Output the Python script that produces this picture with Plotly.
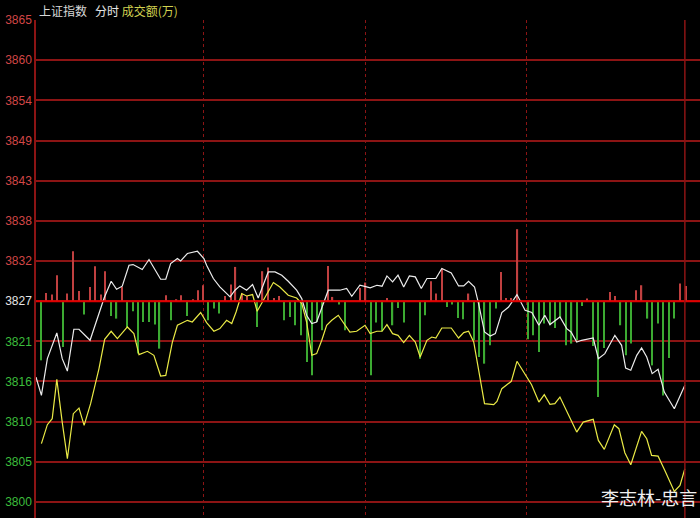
import plotly.graph_objects as go

# previous close and price grid
prev_close = 3827.2
grid_step = 5.43
tick_labels = ["3800", "3805", "3810", "3816", "3821", "3827", "3832",
               "3838", "3843", "3849", "3854", "3860", "3865"]

# index line (white), minutes from open
idx_t = [0.0, 2.0, 4.2, 7.7, 9.7, 11.6, 14.0, 15.9, 20.0, 25.2, 27.8, 29.8, 31.9,
         34.4, 35.9, 39.3, 41.8, 46.1, 48.0, 49.8, 52.3, 53.5, 56.0, 59.7, 62.1,
         63.1, 65.6, 68.0, 71.8, 73.6, 75.4, 77.9, 80.1, 82.2, 85.9, 88.4, 90.9,
         93.3, 96.4, 98.3, 100.1, 102.0, 103.8, 106.2, 108.1, 112.4, 114.9, 116.8,
         119.8, 122.3, 123.6, 126.1, 128.0, 129.8, 131.9, 133.9, 136.0, 138.1,
         140.3, 142.5, 144.6, 147.9, 150.1, 153.6, 156.3, 158.2, 160.0, 162.2,
         163.7, 165.9, 168.0, 169.9, 172.3, 174.8, 177.9, 180.9, 183.4, 186.0,
         188.2, 190.1, 191.9, 193.8, 196.3, 197.9, 200.0, 201.8, 206.1, 208.0,
         210.4, 214.1, 216.6, 218.1, 220.0, 222.2, 224.0, 225.9, 227.9, 230.1,
         232.4, 236.1, 240.0]
idx_v = [3816.94, 3814.46, 3819.43, 3822.90, 3819.43, 3817.75, 3823.40, 3823.40,
         3821.91, 3827.63, 3829.89, 3828.81, 3829.22, 3832.06, 3832.15, 3831.48,
         3832.83, 3830.16, 3830.16, 3832.29, 3832.97, 3832.64, 3833.64, 3833.95,
         3832.97, 3832.06, 3830.26, 3829.12, 3827.77, 3828.68, 3829.26, 3828.68,
         3829.45, 3827.63, 3831.15, 3831.15, 3830.71, 3829.89, 3828.68, 3827.55,
         3825.29, 3824.17, 3824.38, 3826.88, 3828.68, 3828.68, 3828.91, 3827.86,
         3829.35, 3829.12, 3828.99, 3829.35, 3829.22, 3830.61, 3829.80, 3830.71,
         3829.12, 3830.61, 3830.48, 3828.91, 3830.26, 3830.26, 3831.61, 3831.02,
         3829.26, 3829.26, 3829.89, 3829.12, 3826.88, 3823.03, 3822.49, 3822.81,
         3825.66, 3826.41, 3828.09, 3825.97, 3825.66, 3823.94, 3825.29, 3824.03,
         3824.48, 3825.06, 3823.49, 3823.03, 3821.68, 3821.91, 3822.22, 3819.43,
         3820.11, 3822.58, 3821.23, 3818.16, 3817.85, 3819.88, 3820.87, 3819.65,
         3817.40, 3817.98, 3814.91, 3812.66, 3815.82]

# lead line (yellow)
lead_t = [2.0, 4.2, 6.0, 7.7, 9.7, 11.6, 13.8, 15.9, 17.8, 20.2, 23.3, 25.4, 27.8,
          30.1, 33.8, 36.2, 38.1, 41.2, 43.6, 46.1, 48.0, 50.4, 52.3, 56.0, 57.8,
          60.9, 63.1, 65.8, 68.0, 70.5, 72.4, 74.0, 76.1, 77.9, 80.1, 81.8, 84.1,
          87.8, 90.2, 93.3, 96.4, 98.3, 100.1, 102.0, 103.8, 105.7, 107.5, 109.4,
          111.8, 113.9, 116.1, 118.6, 121.7, 123.6, 126.1, 128.0, 129.8, 131.9,
          133.9, 136.0, 138.1, 140.3, 142.1, 144.6, 146.4, 147.9, 150.1, 153.6,
          156.3, 158.2, 160.0, 161.9, 164.3, 165.9, 169.3, 170.5, 172.3, 175.8,
          177.9, 180.4, 183.3, 186.0, 188.0, 190.1, 191.9, 193.8, 196.9, 200.0,
          202.4, 206.1, 208.0, 210.2, 213.9, 215.6, 217.8, 220.0, 224.0, 225.9,
          227.7, 230.1, 232.6, 236.1, 238.2, 240.0]
lead_v = [3807.93, 3810.50, 3811.31, 3816.63, 3810.85, 3805.90, 3811.99, 3812.74,
          3810.40, 3813.34, 3818.08, 3822.04, 3823.13, 3822.14, 3823.71, 3822.81,
          3819.97, 3820.42, 3819.88, 3817.08, 3817.17, 3821.60, 3823.94, 3824.61,
          3824.38, 3825.66, 3824.30, 3823.13, 3823.49, 3824.61, 3824.17, 3825.74,
          3828.23, 3827.90, 3828.09, 3825.83, 3827.32, 3829.72, 3829.12, 3828.00,
          3827.63, 3826.88, 3824.38, 3819.88, 3820.11, 3821.91, 3823.94, 3824.61,
          3825.29, 3824.17, 3823.03, 3823.13, 3823.94, 3822.81, 3823.13, 3823.13,
          3824.03, 3822.81, 3822.58, 3821.60, 3822.58, 3821.68, 3819.65, 3821.91,
          3822.35, 3822.22, 3823.57, 3823.57, 3822.22, 3822.95, 3823.13, 3821.68,
          3816.36, 3813.34, 3813.20, 3813.65, 3815.37, 3816.36, 3819.07, 3817.62,
          3815.91, 3813.56, 3814.56, 3813.25, 3813.34, 3814.23, 3811.76, 3809.50,
          3810.85, 3811.22, 3808.37, 3807.16, 3810.50, 3809.96, 3806.71, 3805.08,
          3809.59, 3808.60, 3806.34, 3806.25, 3804.31, 3801.47, 3802.28, 3804.54]

# red / green strength bars, offset from previous close
up_t = [3.8, 5.8, 7.7, 11.6, 13.8, 15.9, 19.9, 21.7, 23.9, 25.6, 31.7, 48.2, 52.0,
        53.7, 58.2, 59.8, 61.8, 69.9, 72.0, 73.8, 76.1, 77.9, 83.8, 85.9, 88.0,
        89.9, 107.9, 109.7, 119.8, 121.9, 129.8, 146.1, 147.9, 150.1, 160.0,
        172.0, 173.9, 175.8, 178.1, 203.9, 212.3, 214.1, 221.9, 224.0, 238.2, 240.3]
up_v = [1.11, 0.89, 3.51, 1.03, 6.75, 1.38, 1.92, 4.72, 0.89, 4.05, 1.92, 0.80, 0.26,
        0.80, 0.26, 1.48, 2.15, 0.70, 2.25, 4.63, 1.03, 0.70, 4.05, 4.55, 0.43,
        0.70, 4.76, 0.57, 1.79, 2.52, 0.43, 2.69, 1.03, 4.41, 1.03,
        3.95, 0.43, 0.43, 9.73, 0.35, 1.25, 0.70, 1.48, 2.15, 2.38, 2.06]
down_t = [2.0, 10.0, 17.8, 27.8, 29.8, 33.8, 35.9, 37.8, 39.7, 41.8, 43.9, 45.7,
          49.8, 55.9, 63.7, 65.9, 67.7, 81.8, 91.8, 93.9, 95.8, 97.9, 100.1, 102.0,
          103.8, 105.7, 112.2, 114.3, 123.9, 125.9, 128.0, 131.9, 133.9, 136.0,
          142.1, 144.0, 152.0, 153.8, 156.1, 158.0, 161.9, 163.9, 165.9, 168.0,
          170.1, 182.0, 183.9, 186.0, 188.0, 190.1, 191.9, 194.0, 195.9, 198.1,
          200.0, 202.0, 206.1, 207.9, 210.1, 216.2, 218.1, 220.0, 226.2, 228.0,
          230.1, 232.0, 234.1, 235.9]
down_v = [-8.00, -6.20, -1.81, -2.00, -2.36, -3.49, -1.37, -7.09, -2.82, -2.82,
          -3.17, -6.42, -2.59, -2.00, -2.59, -1.00, -1.68, -3.49, -2.59, -2.14,
          -3.26, -4.62, -8.23, -10.03, -2.82, -3.94, -0.46, -3.94, -10.03, -2.90,
          -4.07, -3.26, -0.92, -2.90, -7.77, -1.91, -0.79, -0.46, -2.27, -2.45,
          -5.29, -7.55, -8.45, -5.97, -1.00, -5.16, -4.62, -6.88, -3.03, -3.26,
          -3.63, -2.27, -5.97, -5.74, -5.29, -0.65, -6.06, -12.97, -6.33, -3.26,
          -7.32, -5.74, -2.36, -8.68, -3.03, -12.74, -7.69, -2.36]

# session marks (dotted) and close
session_marks = [61.8, 121.7, 181.6]
close_mark = 240.0

grid_red = "#8c1414"
tick_vals = [prev_close + k * grid_step for k in range(-5, 8)]
tick_text = []
for i, lab in enumerate(tick_labels):
    if i < 5:
        c = "#3cbe3c"
    elif i == 5:
        c = "#e6e6e6"
    else:
        c = "#d24646"
    tick_text.append(f'<span style="color:{c}">{lab}</span>')

fig = go.Figure()

fig.add_trace(go.Bar(x=up_t, y=up_v, base=prev_close, width=0.45,
                     marker=dict(color="#c04040", line=dict(width=0))))
fig.add_trace(go.Bar(x=down_t, y=down_v, base=prev_close, width=0.45,
                     marker=dict(color="#3caa32", line=dict(width=0))))

fig.add_hline(y=prev_close, line=dict(color="#e00000", width=2))
fig.add_vline(x=close_mark, line=dict(color=grid_red, width=1.5))

fig.add_trace(go.Scatter(x=lead_t, y=lead_v, mode="lines",
                         line=dict(color="#eaea46", width=1.2)))
fig.add_trace(go.Scatter(x=idx_t, y=idx_v, mode="lines",
                         line=dict(color="#ececec", width=1.2)))

fig.update_layout(
    width=700, height=518,
    margin=dict(l=36, r=0, t=20, b=0),
    paper_bgcolor="black", plot_bgcolor="black",
    showlegend=False, hovermode=False, barmode="overlay",
    font=dict(family="Liberation Sans", size=12, color="#e6e6e6"),
    xaxis=dict(range=[0, 245.6], tickvals=session_marks, showticklabels=False,
               showgrid=True, gridcolor=grid_red, griddash="dot", gridwidth=1,
               zeroline=False, ticks="", automargin=False),
    yaxis=dict(range=[prev_close - 5 * grid_step - 16 * grid_step / 40.12,
                      prev_close + 7 * grid_step],
               tickvals=tick_vals, ticktext=tick_text,
               showgrid=True, gridcolor=grid_red, gridwidth=1.5,
               showline=True, linecolor=grid_red, linewidth=1.5,
               zeroline=False, ticks="", ticklabelstandoff=0, automargin=False,
               tickfont=dict(family="Liberation Sans", size=12)),
)

fig.add_annotation(
    xref="paper", yref="paper", x=0.002, y=1.02, xanchor="left", yanchor="middle",
    text='<span style="color:#d8d8d8">上证指数</span>   '
         '<span style="color:#e6e6e6">分时</span> '
         '<span style="color:#d2d250">成交额(万)</span>',
    showarrow=False, font=dict(family="Noto Sans CJK SC", size=12))

fig.add_annotation(
    xref="paper", yref="paper", x=0.998, y=0.042, xanchor="right", yanchor="middle",
    text="李志林-忠言", showarrow=False,
    font=dict(family="Noto Sans CJK SC", size=18, color="#f0f0f0"))

fig.write_html("out.html", config={"displayModeBar": False},
               post_script="document.body.style.margin='0';"
                           "document.body.style.background='black';")
